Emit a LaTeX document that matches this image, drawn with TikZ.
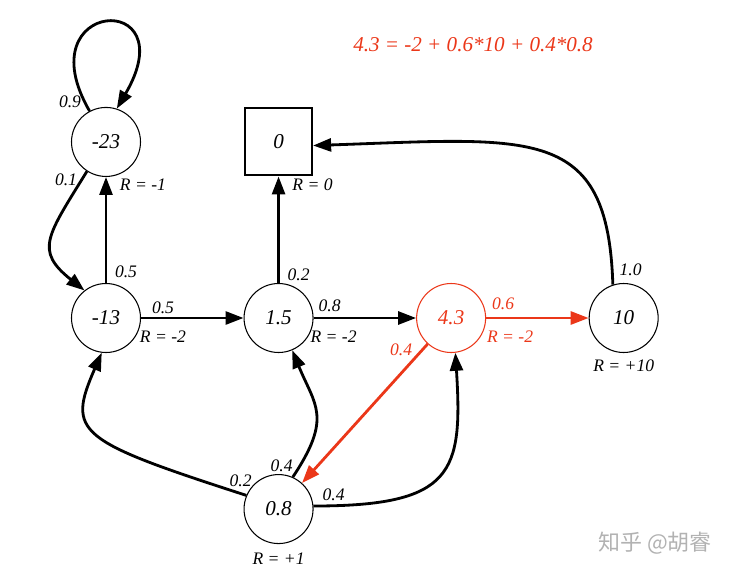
\documentclass[tikz,border=0pt]{standalone}
\usepackage{fontspec}
\setmainfont{Liberation Serif}
\newfontfamily\cjkfont{Noto Sans CJK SC}
\usepackage{xcolor}
\usepackage{tikz}
\usetikzlibrary{arrows.meta,positioning,calc}
\definecolor{hot}{RGB}{235,55,25}

\begin{document}
\begin{tikzpicture}[
  state/.style={draw, circle, line width=0.6pt, minimum size=1.38cm, inner sep=0pt, font=\fontsize{12}{14}\selectfont\itshape},
  term/.style={draw, rectangle, line width=1.2pt, minimum size=1.34cm, inner sep=0pt, font=\fontsize{12}{14}\selectfont\itshape},
  arrow/.style={-{Triangle[length=3.6mm, width=2.6mm]}, line width=1.6pt},
  rarrow/.style={arrow, color=hot},
  plabel/.style={font=\fontsize{10}{12}\selectfont\itshape, inner sep=0pt},
]
\useasboundingbox (0,0) rectangle (14.96,-11.46);

\node[state] (n13) at (2.12,-6.36) {-13};
\node[state, above=2.12cm of n13] (n23) {-23};
\node[state, right=2.05cm of n13] (n15) {1.5};
\node[term, above=2.13cm of n15] (term) {0};
\node[state, right=2.05cm of n15, draw=hot, text=hot] (n43) {4.3};
\node[state, right=2.05cm of n43] (n10) {10};
\node[state, below=2.42cm of n15] (n08) {0.8};

\draw[arrow] (n23.118) .. controls +(-1.3,2.24) and +(1.4,2.4) .. (n23.72);
\draw[arrow] (n23.237) .. controls +(-0.8,-1.3) and +(-1.0,0.8) .. (n13.128);
\draw[arrow] (n13) -- (n23);
\draw[arrow] (n13) -- (n15);
\draw[arrow] (n15) -- (term);
\draw[arrow] (n15) -- (n43);
\draw[rarrow] (n43) -- (n10);
\draw[rarrow] (n43) -- (n08);
\draw[arrow] (n10.108) .. controls +(-0.1,3.2) and +(4.4,0.15) .. (term.-6);
\draw[arrow] (n08.157) .. controls +(-3.4,1.1) and +(-0.7,-1.6) .. (n13.263);
\draw[arrow] (n08.66) .. controls +(0.8,1.2) and +(0.45,-1.1) .. (n15.293);
\draw[arrow] (n08.5) .. controls +(2.8,0) and +(0.15,-2.4) .. (n43.277);

% probabilities
\node[plabel] (p1) at ($(n23)+(-0.72,0.80)$) {0.9};
\node[plabel] (p2) at ($(n23)+(-0.80,-0.76)$) {0.1};
\node[plabel] (p3) at ($(n13)+(0.40,0.92)$) {0.5};
\node[plabel] (p4) at ($(n13)+(1.14,0.20)$) {0.5};
\node[plabel] (p5) at ($(n15)+(0.40,0.86)$) {0.2};
\node[plabel] (p6) at ($(n15)+(1.02,0.24)$) {0.8};
\node[plabel, text=hot] (p7) at ($(n43)+(-1.00,-0.64)$) {0.4};
\node[plabel, text=hot] (p8) at ($(n43)+(1.04,0.28)$) {0.6};
\node[plabel] (p9) at ($(n10)+(0.14,0.96)$) {1.0};
\node[plabel] (p10) at ($(n08)+(-0.76,0.56)$) {0.2};
\node[plabel] (p11) at ($(n08)+(0.06,0.86)$) {0.4};
\node[plabel] (p12) at ($(n08)+(1.10,0.28)$) {0.4};

% rewards
\node[plabel] (r23) at ($(n23)+(0.74,-0.86)$) {R = -1};
\node[plabel] (r13) at ($(n13)+(1.14,-0.38)$) {R = -2};
\node[plabel] (r0) at ($(term)+(0.68,-0.86)$) {R = 0};
\node[plabel] (r15) at ($(n15)+(1.10,-0.38)$) {R = -2};
\node[plabel, text=hot] (r43) at ($(n43)+(1.18,-0.38)$) {R = -2};
\node[plabel] (r10) at ($(n10)+(0,-0.96)$) {R = +10};
\node[plabel] (r08) at ($(n08)+(0,-1.00)$) {R = +1};

\node[font=\fontsize{12}{14}\selectfont\itshape, text=hot] (eq) at (9.46,-0.90) {4.3 = -2 + 0.6*10 + 0.4*0.8};
\node[font=\cjkfont\fontsize{12.5}{14}\selectfont, text=black!30] (wm) at (13.1,-10.86) {知乎 @胡睿};

\end{tikzpicture}
\end{document}
